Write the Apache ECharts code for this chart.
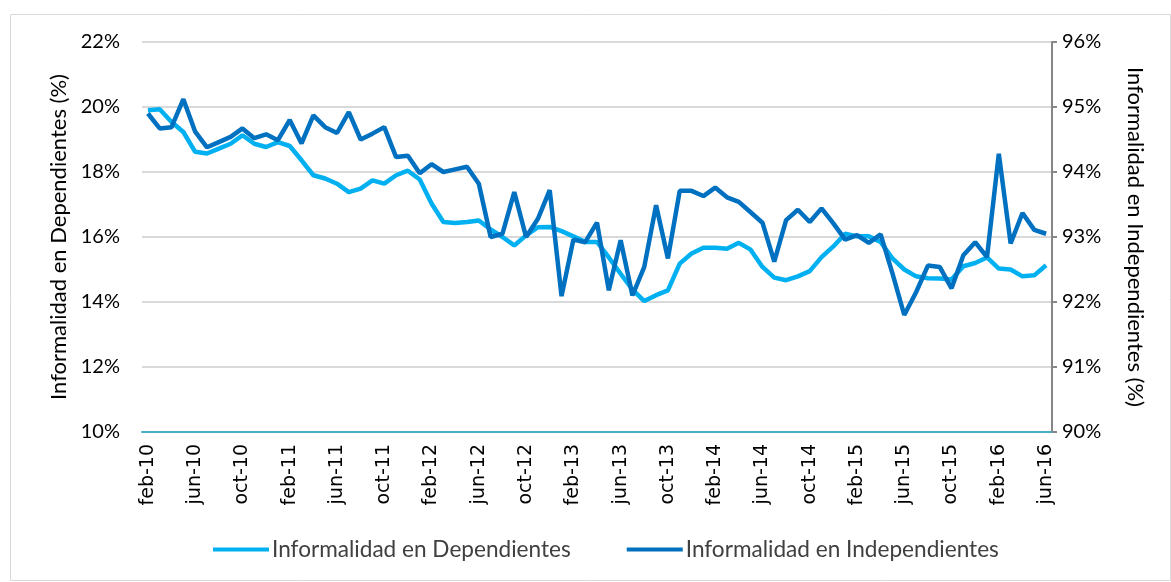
<!DOCTYPE html>
<html>
<head>
<meta charset="utf-8">
<script src="https://cdn.jsdelivr.net/npm/echarts@6/dist/echarts.min.js"></script>
<style>
html,body{margin:0;padding:0;background:#fff;}
#chart{width:1171px;height:582px;}
</style>
</head>
<body>
<div id="chart"></div>
<script>
const monthNames = ['ene','feb','mar','abr','may','jun','jul','ago','sep','oct','nov','dic'];
// feb-10 .. jun-16 (77 months)
const categories = [];
for (let y = 10; y <= 16; y++) {
  for (let m = 0; m < 12; m++) {
    if (y === 10 && m < 1) continue;
    if (y === 16 && m > 5) continue;
    categories.push(monthNames[m] + '-' + y);
  }
}

const dependientes = [
  19.90, 19.93, 19.54, 19.23, 18.62, 18.57, 18.72, 18.87, 19.13, 18.87, 18.77,
  18.92, 18.80, 18.36, 17.90, 17.80, 17.64, 17.38, 17.49, 17.74, 17.64, 17.90,
  18.04, 17.77, 17.03, 16.46, 16.43, 16.46, 16.51, 16.23, 16.00, 15.74, 16.05,
  16.30, 16.31, 16.18, 16.02, 15.85, 15.85, 15.37, 14.87, 14.38, 14.03, 14.21,
  14.36, 15.18, 15.49, 15.67, 15.67, 15.64, 15.82, 15.61, 15.08, 14.75, 14.67,
  14.79, 14.95, 15.38, 15.71, 16.10, 16.02, 16.02, 15.85, 15.34, 15.00, 14.79,
  14.73, 14.72, 14.69, 15.10, 15.20, 15.37, 15.03, 15.00, 14.79, 14.82, 15.13
];

const independientes = [
  94.90, 94.67, 94.69, 95.12, 94.62, 94.38, 94.46, 94.54, 94.67, 94.52, 94.58,
  94.49, 94.80, 94.44, 94.87, 94.69, 94.60, 94.92, 94.50, 94.59, 94.69, 94.23,
  94.25, 93.98, 94.12, 94.00, 94.04, 94.08, 93.82, 93.00, 93.05, 93.69, 93.00,
  93.28, 93.72, 92.09, 92.96, 92.92, 93.22, 92.18, 92.95, 92.10, 92.54, 93.49,
  92.67, 93.71, 93.71, 93.63, 93.76, 93.61, 93.54, 93.38, 93.22, 92.62, 93.26,
  93.42, 93.23, 93.44, 93.21, 92.96, 93.03, 92.91, 93.04, 92.44, 91.80, 92.15,
  92.56, 92.54, 92.21, 92.72, 92.92, 92.69, 94.28, 92.90, 93.37, 93.11, 93.05
];

const leftTicks = { min: 10, max: 22, interval: 2 };
const rightTicks = { min: 90, max: 96, interval: 1 };

const FONT = 'Lato, "Open Sans", sans-serif';
const chart = echarts.init(document.getElementById('chart'));
chart.setOption({
  animation: false,
  backgroundColor: '#fff',
  graphic: [{
    type: 'rect', left: 8, top: 12, z: -1,
    shape: { width: 1160, height: 566 },
    style: { fill: 'none', stroke: '#D9D9D9', lineWidth: 1 }
  }],
  grid: { left: 142, right: 119, top: 42, bottom: 150, containLabel: false },
  legend: {
    bottom: 16,
    left: 208,
    itemWidth: 56,
    itemHeight: 4,
    itemGap: 56,
    icon: 'rect',
    textStyle: { fontFamily: FONT, fontSize: 22.6, color: '#404040', padding: [0, 0, 0, -2] },
    data: ['Informalidad en Dependientes', 'Informalidad en Independientes']
  },
  xAxis: {
    type: 'category',
    data: categories,
    boundaryGap: true,
    axisLine: { lineStyle: { color: '#4BACC6', width: 2 } },
    axisTick: { show: false },
    axisLabel: {
      interval: 3,
      rotate: 90,
      fontFamily: '"DejaVu Sans", sans-serif',
      fontSize: 19,
      color: '#000',
      margin: 12
    }
  },
  yAxis: [{
    type: 'value',
    min: leftTicks.min, max: leftTicks.max, interval: leftTicks.interval,
    name: 'Informalidad en Dependientes (%)',
    nameLocation: 'middle',
    nameGap: 70,
    nameTextStyle: { fontFamily: FONT, fontSize: 22, color: '#000' },
    axisLine: { show: false },
    axisTick: { show: false },
    axisLabel: { formatter: '{value}%', fontFamily: FONT, fontSize: 20, color: '#000', margin: 22 },
    splitLine: { lineStyle: { color: '#D9D9D9', width: 2 } }
  }, {
    type: 'value',
    position: 'right',
    min: rightTicks.min, max: rightTicks.max, interval: rightTicks.interval,
    name: 'Informalidad en Independientes (%)',
    nameLocation: 'middle',
    nameRotate: -90,
    nameGap: 72,
    nameTextStyle: { fontFamily: FONT, fontSize: 22, color: '#000' },
    axisLine: { show: true, lineStyle: { color: '#868686', width: 2 } },
    axisTick: { show: true, length: 5, lineStyle: { color: '#868686', width: 2 } },
    axisLabel: { formatter: '{value}%', fontFamily: FONT, fontSize: 20, color: '#000', margin: 10 },
    splitLine: { show: false }
  }],
  series: [{
    name: 'Informalidad en Dependientes',
    type: 'line',
    yAxisIndex: 0,
    data: dependientes,
    showSymbol: false,
    lineStyle: { color: '#00B0F0', width: 4.5 },
    itemStyle: { color: '#00B0F0' },
    z: 2
  }, {
    name: 'Informalidad en Independientes',
    type: 'line',
    yAxisIndex: 1,
    data: independientes,
    showSymbol: false,
    lineStyle: { color: '#0070C0', width: 4.5 },
    itemStyle: { color: '#0070C0' },
    z: 3
  }]
});
</script>
</body>
</html>
